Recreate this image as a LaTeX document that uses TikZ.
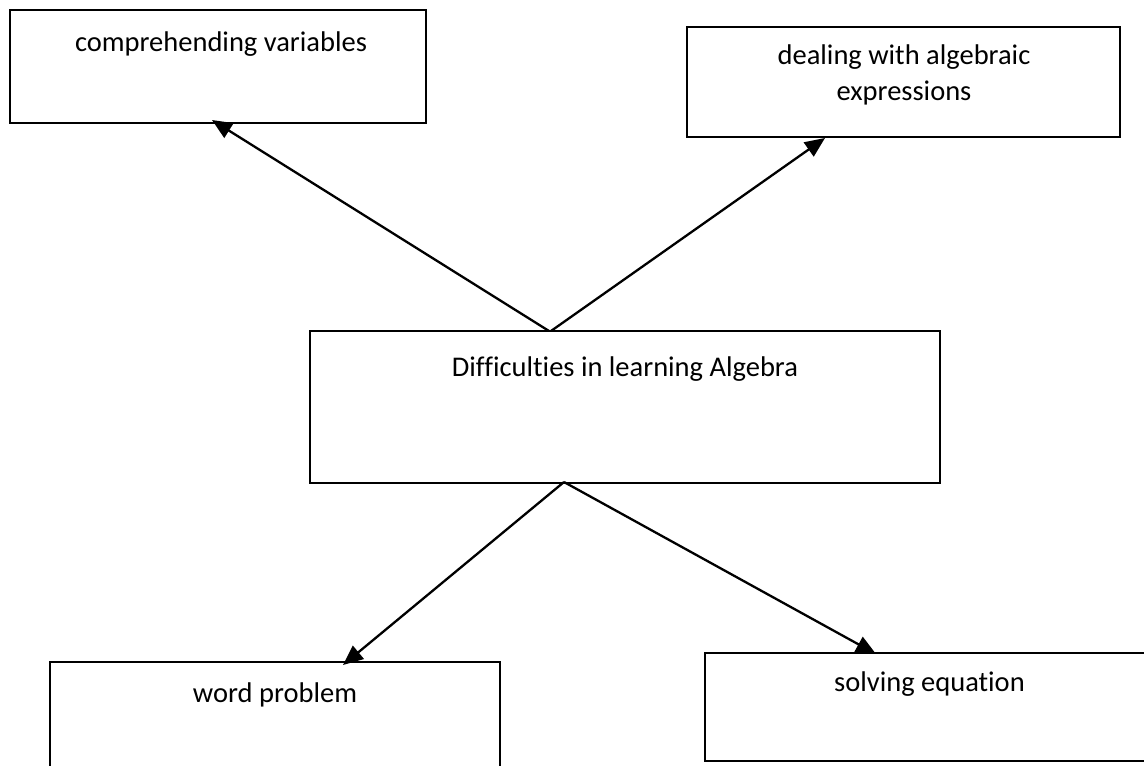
\documentclass[tikz,border=0pt]{standalone}
\usepackage{fontspec}
\setmainfont{Carlito}[Ligatures=CommonOff]
\usetikzlibrary{arrows.meta,calc}
\begin{document}
\begin{tikzpicture}[x=1pt,y=-1pt,
  box/.style={draw=black, line width=2.2pt, inner sep=0pt, outer sep=0pt},
  lab/.style={font=\fontsize{28.5}{36}\selectfont, inner sep=0pt, anchor=north, align=center},
  conn/.style={line width=2.3pt, -{Triangle[length=20pt,width=17pt]}}]
\useasboundingbox (0,0) rectangle (1144,766);
\clip (0,0) rectangle (1144,766);
% boxes
\node[box, minimum width=416pt, minimum height=113pt] (b1) at (218,66.5) {};
\node[box, minimum width=433pt, minimum height=110pt] (b2) at (903.5,82) {};
\node[box, minimum width=630pt, minimum height=152pt] (b3) at (625,407) {};
\node[box, minimum width=450pt, minimum height=128pt] (b4) at (275,726) {};
\node[box, minimum width=455pt, minimum height=108pt] (b5) at (932.5,707) {};
% texts
\node[lab] (t1) at (221,32) {comprehending variables};
\node[lab] (t2) at (904,45) {dealing with algebraic\\expressions};
\node[lab] (t3) at (625,357) {Difficulties in learning Algebra};
\node[lab] (t4) at (275,683) {word problem};
\node[lab] (t5) at (929.5,672) {solving equation};
% connector end points
\coordinate (u1) at (549,331);
\coordinate (u2) at (551,331);
\coordinate (d1) at (564,482);
\coordinate (e1) at (212,120);
\coordinate (e2) at (825,138);
\coordinate (e3) at (343,665);
\coordinate (e4) at (876,654);
% connectors
\draw[conn] (u1) -- (e1);
\draw[conn] (u2) -- (e2);
\draw[conn] (d1) -- (e3);
\draw[conn] (d1) -- (e4);
\end{tikzpicture}
\end{document}
